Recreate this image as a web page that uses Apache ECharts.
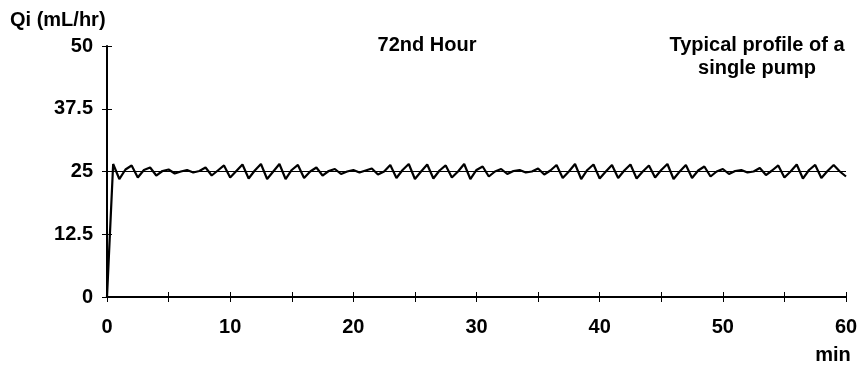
<!DOCTYPE html>
<html>
<head>
<meta charset="utf-8">
<script src="https://cdn.jsdelivr.net/npm/echarts@6/dist/echarts.min.js"></script>
<style>
  html, body { margin: 0; padding: 0; background: #fff; }
  #chart { width: 867px; height: 367px; }
</style>
</head>
<body>
<div id="chart"></div>
<script>
const FONT = "'Liberation Sans', Arial, sans-serif";

// Sampling times (min) for the pump flow readings
const sampleStep = 0.5;
// Flow rate readings (mL/hr), one every 0.5 min starting at t = 0
const qiValues = [
  0,
  26.5, 23.5, 25.4,  26.2, 23.8, 25.3,  25.8, 24.2, 25.1,
  25.4, 24.6, 25.0,  25.3, 24.8, 25.1,  25.8, 24.2, 25.2,
  26.2, 23.8, 25.1,  26.4, 23.6, 25.2,  26.5, 23.5, 25.0,
  26.5, 23.5, 25.3,  26.3, 23.7, 25.0,  25.8, 24.2, 25.1,
  25.5, 24.5, 25.0,  25.3, 24.8, 25.2,  25.6, 24.4, 25.0,
  26.3, 23.7, 25.3,  26.5, 23.5, 25.0,  26.4, 23.6, 25.2,
  26.2, 23.8, 25.0,  26.5, 23.5, 25.3,  26.0, 24.0, 25.0,
  25.5, 24.5, 25.1,  25.3, 24.8, 25.0,  25.6, 24.4, 25.2,
  26.3, 23.7, 25.0,  26.5, 23.5, 25.3,  26.4, 23.6, 25.0,
  26.3, 23.7, 25.2,  26.4, 23.6, 25.0,  26.2, 23.8, 25.3,
  26.5, 23.5, 25.0,  26.3, 23.7, 25.2,  26.0, 24.0, 25.0,
  25.5, 24.5, 25.1,  25.3, 24.8, 25.0,  25.7, 24.3, 25.2,
  26.2, 23.8, 25.0,  26.4, 23.6, 25.3,  26.3, 23.7, 25.1,
  26.3, 25.0, 24.0
];
// Nominal set rate line
const setRate = 25;

const xTicks = { min: 0, max: 60, interval: 5 };
const yTicks = { min: 0, max: 50, interval: 12.5 };

const qiData = qiValues.map((v, i) => [i * sampleStep, v]);

const chart = echarts.init(document.getElementById("chart"), null, { renderer: "canvas" });

const labelStyle = { color: "#000", fontFamily: FONT, fontWeight: "bold", fontSize: 20 };
const titleStyle = { ...labelStyle, fontSize: 20 };

chart.setOption({
  animation: false,
  backgroundColor: "#fff",
  grid: { left: 107, right: 21, top: 46, bottom: 70 },
  title: [
    { text: "Qi (mL/hr)", left: 10, top: 10, padding: 0, textStyle: titleStyle },
    { text: "72nd Hour", left: 427, top: 35, padding: 0, textAlign: "center", textStyle: titleStyle },
    {
      text: "Typical profile of a\nsingle pump", left: 757, top: 34, padding: 0, textAlign: "center",
      textStyle: { ...titleStyle, lineHeight: 23 }
    },
    { text: "min", left: 833, top: 345, padding: 0, textAlign: "center", textStyle: titleStyle }
  ],
  xAxis: [
    {
      type: "value", ...xTicks, position: "bottom",
      axisLine: { lineStyle: { color: "#000", width: 2 } },
      axisTick: { show: true, length: 5, lineStyle: { color: "#000", width: 1 } },
      axisLabel: {
        ...labelStyle, margin: 20,
        formatter: v => (v % 10 === 0 ? String(v) : "")
      },
      splitLine: { show: false }
    },
    {
      type: "value", ...xTicks, position: "bottom",
      axisLine: { show: false },
      axisTick: { show: true, inside: true, length: 5, lineStyle: { color: "#000", width: 1 } },
      axisLabel: { show: false },
      splitLine: { show: false }
    }
  ],
  yAxis: [
    {
      type: "value", ...yTicks, position: "left",
      axisLine: { show: true, lineStyle: { color: "#000", width: 2 } },
      axisTick: { show: true, length: 5, lineStyle: { color: "#000", width: 1 } },
      axisLabel: { ...labelStyle, margin: 14 },
      splitLine: { show: false }
    },
    {
      type: "value", ...yTicks, position: "left",
      axisLine: { show: false },
      axisTick: { show: true, inside: true, length: 5, lineStyle: { color: "#000", width: 1 } },
      axisLabel: { show: false },
      splitLine: { show: false }
    }
  ],
  series: [
    {
      type: "line",
      data: [[xTicks.min, setRate], [xTicks.max, setRate]],
      symbol: "none",
      lineStyle: { color: "#000", width: 1.2 },
      z: 2
    },
    {
      type: "line",
      data: qiData,
      symbol: "none",
      lineStyle: { color: "#000", width: 2.2 },
      z: 3
    }
  ]
});
</script>
</body>
</html>
